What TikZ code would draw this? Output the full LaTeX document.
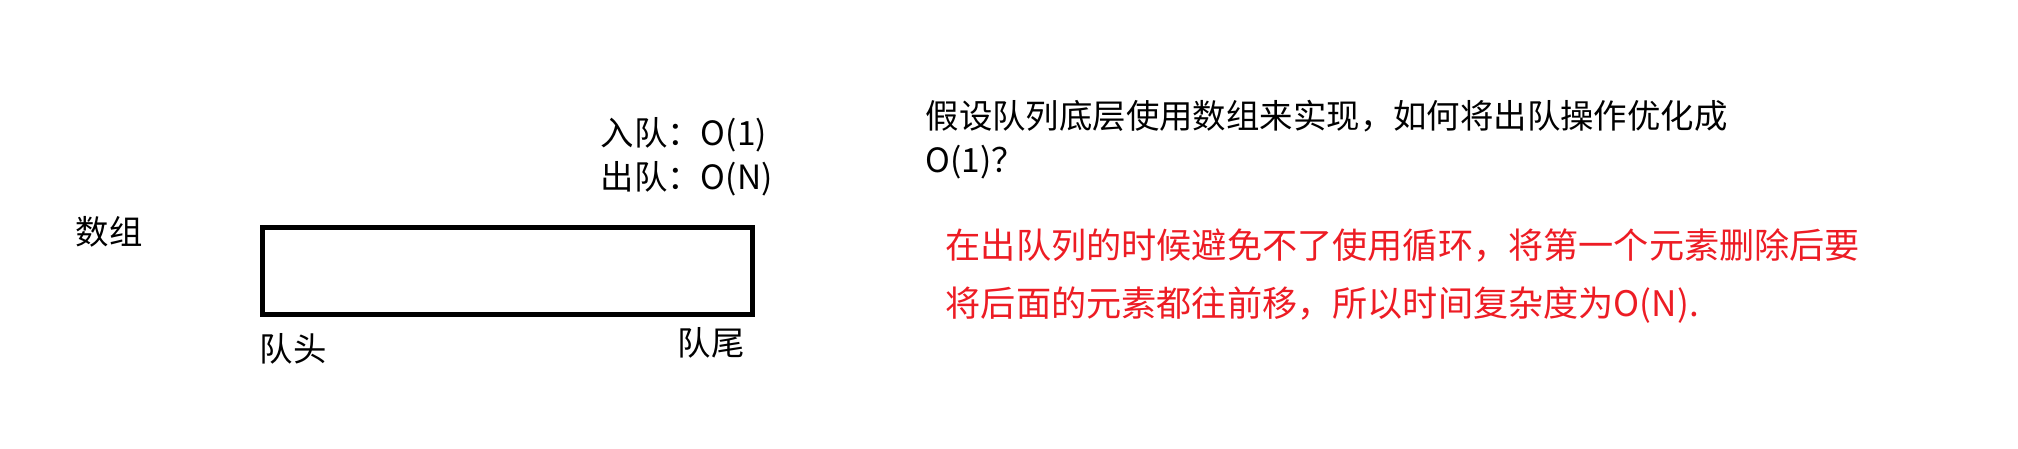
\documentclass[tikz,border=0pt]{standalone}
\usepackage{fontspec}
\setmainfont{Noto Sans CJK SC}
\newfontfamily\cjk{Noto Sans CJK SC}
\usepackage{tikz}
\definecolor{notered}{RGB}{237,28,36}
\tikzset{
	lbl/.style = {inner sep=0pt, anchor=west, font=\cjk\fontsize{9.5pt}{11pt}\selectfont},
	redlbl/.style = {lbl, text=notered, font=\cjk\fontsize{10pt}{12pt}\selectfont},
	arraybox/.style = {draw, line width=1.4pt}
}
\begin{document}
\begin{tikzpicture}[x=0.01cm,y=-0.01cm]
	\useasboundingbox (0,0) rectangle (2018,449);
	\node[arraybox, minimum width=4.9cm, minimum height=0.87cm, anchor=north west] (arr) at (260,225) {};
	\node[lbl] (name) at (75,232) {数组};
	\node[lbl] (head) at (259,349) {队头};
	\node[lbl] (tail) at (677,343) {队尾};
	\node[lbl] (enq) at (600,135) {入队：O(1)};
	\node[lbl] (deq) at (600,179) {出队：O(N)};
	\node[lbl] (q1) at (925,116) {假设队列底层使用数组来实现，如何将出队操作优化成};
	\node[lbl] (q2) at (925,162) {O(1)？};
	\node[redlbl] (a1) at (945,245) {在出队列的时候避免不了使用循环，将第一个元素删除后要};
	\node[redlbl] (a2) at (945,305) {将后面的元素都往前移，所以时间复杂度为O(N).};
\end{tikzpicture}
\end{document}
